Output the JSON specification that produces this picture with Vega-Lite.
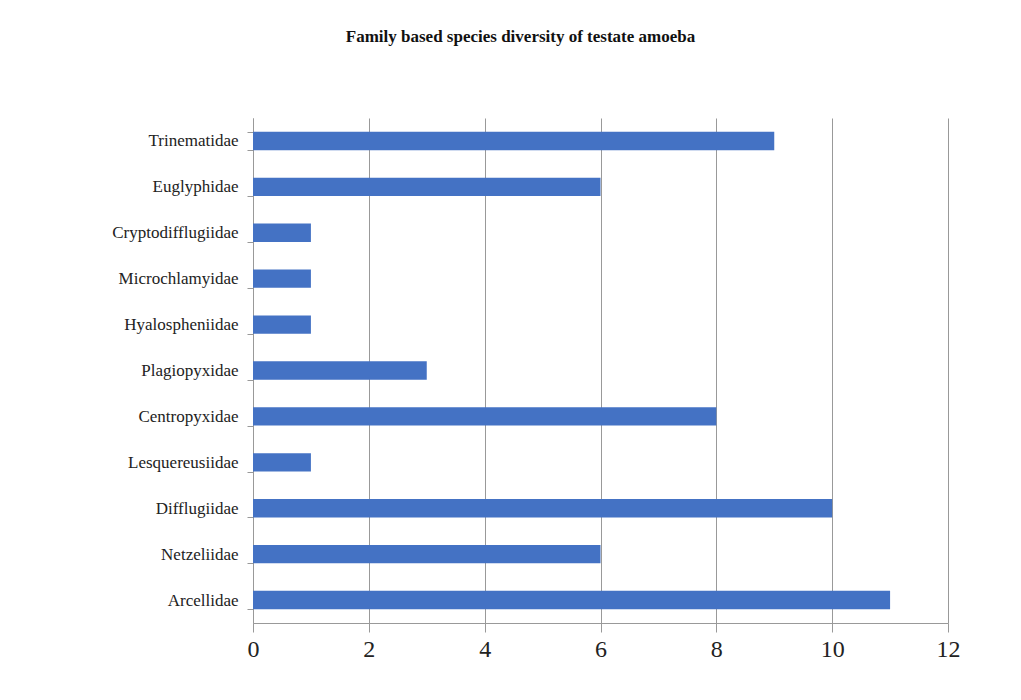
{
  "$schema": "https://vega.github.io/schema/vega-lite/v6.json",
  "width": 695,
  "height": 505,
  "autosize": {"type": "none"},
  "padding": {"left": 253, "top": 118, "right": 73, "bottom": 77},
  "background": "white",
  "title": {
    "text": "Family based species diversity of testate amoeba",
    "font": "Liberation Serif",
    "fontSize": 17,
    "fontWeight": "bold",
    "color": "#111",
    "anchor": "middle",
    "frame": "group",
    "dx": -80,
    "offset": 63
  },
  "data": {
    "values": [
      {"family": "Trinematidae", "species": 9},
      {"family": "Euglyphidae", "species": 6},
      {"family": "Cryptodifflugiidae", "species": 1},
      {"family": "Microchlamyidae", "species": 1},
      {"family": "Hyalospheniidae", "species": 1},
      {"family": "Plagiopyxidae", "species": 3},
      {"family": "Centropyxidae", "species": 8},
      {"family": "Lesquereusiidae", "species": 1},
      {"family": "Difflugiidae", "species": 10},
      {"family": "Netzeliidae", "species": 6},
      {"family": "Arcellidae", "species": 11}
    ]
  },
  "mark": {"type": "bar", "color": "#4472C4"},
  "encoding": {
    "y": {
      "field": "family",
      "type": "nominal",
      "sort": null,
      "scale": {"paddingInner": 0.6, "paddingOuter": 0.3},
      "axis": {
        "title": null,
        "labelFont": "Liberation Serif",
        "labelFontSize": 17,
        "labelColor": "#222",
        "labelPadding": 9,
        "tickBand": "extent",
        "tickSize": 6,
        "tickColor": "#999",
        "domainColor": "#999",
        "grid": false
      }
    },
    "x": {
      "field": "species",
      "type": "quantitative",
      "scale": {"domain": [0, 12], "nice": false},
      "axis": {
        "title": null,
        "values": [0, 2, 4, 6, 8, 10, 12],
        "labelFont": "Liberation Serif",
        "labelFontSize": 24,
        "labelColor": "#222",
        "labelPadding": 5,
        "labelFlush": false,
        "tickSize": 9,
        "tickColor": "#999",
        "domainColor": "#999",
        "grid": true,
        "gridColor": "#999",
        "gridOpacity": 1
      }
    }
  },
  "config": {"view": {"stroke": null}}
}
